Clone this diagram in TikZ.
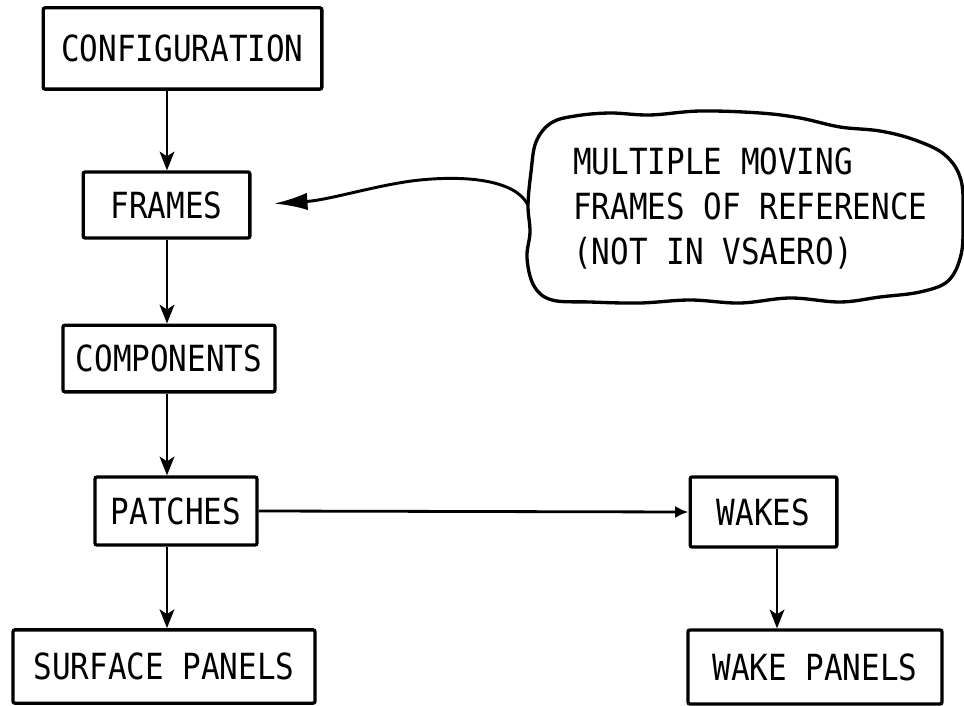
\documentclass[tikz,border=0pt]{standalone}
\usepackage{fontspec}
\newfontfamily\plotfont[FakeStretch=0.86]{DejaVu Sans Mono}
\usetikzlibrary{arrows.meta}

\begin{document}
\begin{tikzpicture}[x=0.75pt,y=-0.75pt,
  box/.style={draw,line width=2.5pt,rounded corners=1.5pt,inner sep=0pt,
    font=\plotfont\fontsize{27}{34}\selectfont},
  flow/.style={line width=2.1pt,-{Stealth[length=14pt,width=11pt,inset=3.5pt]}},
  side/.style={line width=2.1pt,-{Latex[length=10pt,width=9pt]}},
  remark/.style={line width=2.2pt,-{Latex[length=25pt,width=13pt]}},
  cloudline/.style={line width=2.5pt,line join=round}]
\useasboundingbox (0,0) rectangle (964,706);
% left column of boxes
\node[box,minimum width=209pt,minimum height=61pt] (config) at (182.5,48.5) {CONFIGURATION};
\node[box,minimum width=125pt,minimum height=49.5pt] (frames) at (166.5,205) {FRAMES};
\node[box,minimum width=159pt,minimum height=50pt] (comps) at (169,358.5) {COMPONENTS};
\node[box,minimum width=121.5pt,minimum height=51pt] (patches) at (176,511) {PATCHES};
\node[box,minimum width=226.5pt,minimum height=55pt] (surf) at (164,666.5) {SURFACE PANELS};
% right column
\node[box,minimum width=110pt,minimum height=52.5pt] (wakes) at (763.5,512) {WAKES};
\node[box,minimum width=190.5pt,minimum height=55.5pt] (wpanels) at (815,667) {WAKE PANELS};
% arrow columns
\coordinate (spine) at (167,0);
\coordinate (wspine) at (777,0);
\draw[flow] (config.south -| spine) -- (frames.north -| spine);
\draw[flow] (frames.south -| spine) -- (comps.north -| spine);
\draw[flow] (comps.south -| spine) -- (patches.north -| spine);
\draw[flow] (patches.south -| spine) -- (surf.north -| spine);
\draw[flow] (wakes.south -| wspine) -- (wpanels.north -| wspine);
\draw[side] (patches.east) -- (wakes.west);
% cloud with the remark
\node[align=left,anchor=west,inner sep=0pt,font=\plotfont\fontsize{27}{33.75}\selectfont] (note) at (573,209)
  {MULTIPLE MOVING\\FRAMES OF REFERENCE\\(NOT IN VSAERO)};
\draw[cloudline] plot[smooth cycle,tension=0.6] coordinates {
  (528,205) (531,172) (536,142) (551,123) (575,116) (610,113) (650,115) (700,111)
  (760,113) (800,118) (840,127) (880,131) (915,140) (945,155) (961,180) (963,220)
  (961,255) (948,281) (920,292) (880,297) (840,302) (790,298) (740,303) (690,300)
  (640,303) (590,302) (552,300) (534,286) (527,258) (530,232)};
\coordinate (cloudL) at (528,205);
\draw[remark,shorten >=17pt] (cloudL) .. controls (516,181) and (470,175) .. (420,180)
  .. controls (380,184) and (330,200) .. (frames.east);
\end{tikzpicture}
\end{document}
